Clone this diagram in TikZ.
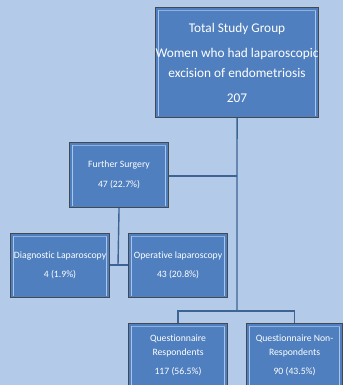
\documentclass[tikz,border=0pt]{standalone}
\usepackage{fontspec}
\setmainfont[Ligatures=NoCommon]{Carlito}
\definecolor{bg}{HTML}{B3CBE9}
\definecolor{boxfill}{HTML}{4F7FBE}
\definecolor{boxedge}{HTML}{44484F}
\definecolor{bevel}{HTML}{A8C6EC}
\definecolor{conn}{HTML}{3E6494}
\tikzset{
  orgbox/.style={draw=boxedge, line width=1.1pt, fill=boxfill, text=white,
    align=center, inner sep=0pt, anchor=north west,
    path picture={
      \draw[bevel, line width=1.2pt]
        ([xshift=3pt,yshift=-2pt]path picture bounding box.north west) --
        ([xshift=3pt,yshift=2pt]path picture bounding box.south west);
      \draw[bevel, line width=1.2pt]
        ([xshift=-3pt,yshift=-2pt]path picture bounding box.north east) --
        ([xshift=-3pt,yshift=2pt]path picture bounding box.south east);
      \draw[bevel!70!boxfill, line width=0.8pt]
        ([xshift=3pt,yshift=-2.5pt]path picture bounding box.north west) --
        ([xshift=-3pt,yshift=-2.5pt]path picture bounding box.north east);
    }},
  link/.style={conn, line width=1.4pt}
}
\begin{document}
\begin{tikzpicture}[x=1pt,y=-1pt]
\useasboundingbox (0,0) rectangle (343,385);
\clip (0,0) rectangle (343,385);
\fill[bg] (0,0) rectangle (343,385);

\node[orgbox, minimum width=163pt, minimum height=110pt,
      font={\fontsize{13.3}{20}\selectfont}] (total) at (155,7)
  {Total Study Group\\[5pt]Women who had laparoscopic\\excision of endometriosis\\[5pt]207};

\node[orgbox, minimum width=99pt, minimum height=65pt,
      font={\fontsize{9.7}{20}\selectfont}] (further) at (69,142)
  {Further Surgery\\47 (22.7\%)};

\node[orgbox, minimum width=99pt, minimum height=64pt,
      font={\fontsize{9.7}{19}\selectfont}] (diag) at (10,233)
  {Diagnostic Laparoscopy\\4 (1.9\%)};

\node[orgbox, minimum width=99pt, minimum height=64pt,
      font={\fontsize{9.7}{19}\selectfont}] (oper) at (128,233)
  {Operative laparoscopy\\43 (20.8\%)};

\node[orgbox, minimum width=99pt, minimum height=64pt,
      font={\fontsize{9.7}{14}\selectfont}] (resp) at (128,323)
  {Questionnaire\\Respondents\\[5pt]117 (56.5\%)};

\node[orgbox, minimum width=96pt, minimum height=64pt,
      font={\fontsize{9.7}{14}\selectfont}] (nonresp) at (246,323)
  {Questionnaire Non-\\Respondents\\[5pt]90 (43.5\%)};

\coordinate (split) at (237,311);
\coordinate (fsjoin) at (237,176);
\coordinate (subsplit) at (118,265);

\draw[link] (total.south) -- (split);
\draw[link] (resp.north) |- (split) -| (nonresp.north);
\draw[link] (further.east |- fsjoin) -- (fsjoin);
\draw[link] (further.south) -- (subsplit);
\draw[link] (diag.east |- subsplit) -- (oper.west |- subsplit);
\end{tikzpicture}
\end{document}
